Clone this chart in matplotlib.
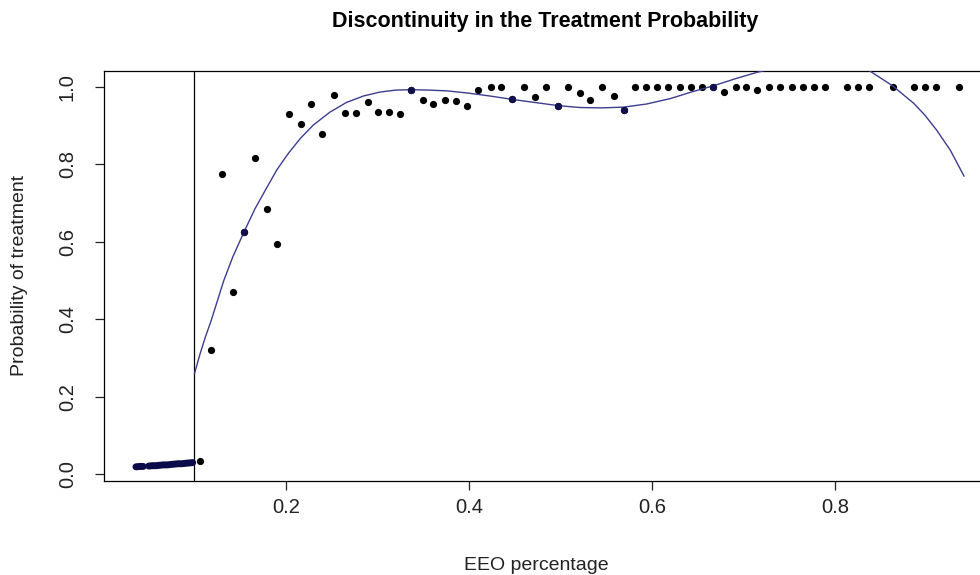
import numpy as np
import matplotlib
matplotlib.use("Agg")
import matplotlib.pyplot as plt

plt.rcParams['font.family'] = ['Liberation Sans', 'DejaVu Sans']

# binned treatment share, below the cutoff (drawn in navy)
leftX = [0.036, 0.040, 0.044, 0.050, 0.054, 0.058, 0.062, 0.066, 0.070, 0.074,
         0.078, 0.082, 0.086, 0.090, 0.094, 0.098]
leftY = [0.019, 0.020, 0.020, 0.021, 0.022, 0.022, 0.023, 0.024, 0.024, 0.025,
         0.026, 0.027, 0.027, 0.028, 0.029, 0.030]
leftGap = 3  # small break between the first bins and the rest

# binned treatment share, above the cutoff
binX = [0.106, 0.118, 0.130, 0.142, 0.154, 0.166, 0.179, 0.190, 0.203, 0.216,
        0.227, 0.239, 0.252, 0.264, 0.277, 0.290, 0.301, 0.313, 0.325, 0.337,
        0.350, 0.361, 0.374, 0.386, 0.398, 0.410, 0.424, 0.435, 0.447, 0.460,
        0.472, 0.484, 0.497, 0.508, 0.521, 0.532, 0.545, 0.558, 0.569, 0.581,
        0.594, 0.606, 0.618, 0.631, 0.643, 0.655, 0.667, 0.679, 0.692, 0.703,
        0.715, 0.728, 0.740, 0.753, 0.765, 0.777, 0.789, 0.813, 0.825, 0.837,
        0.863, 0.886, 0.898, 0.910, 0.936]
binY = [0.034, 0.321, 0.776, 0.471, 0.625, 0.817, 0.685, 0.595, 0.929, 0.905,
        0.956, 0.879, 0.979, 0.932, 0.932, 0.960, 0.936, 0.936, 0.929, 0.993,
        0.966, 0.956, 0.966, 0.964, 0.950, 0.993, 1.000, 1.000, 0.970, 1.000,
        0.973, 1.000, 0.952, 1.000, 0.984, 0.966, 1.000, 0.977, 0.940, 1.000,
        1.000, 1.000, 1.000, 1.000, 1.000, 1.000, 1.000, 0.986, 1.000, 1.000,
        0.993, 1.000, 1.000, 1.000, 1.000, 1.000, 1.000, 1.000, 1.000, 1.000,
        1.000, 1.000, 1.000, 1.000, 1.000]
# bins that sit right on the fitted curve show up navy
onCurveX = [0.154, 0.337, 0.447, 0.497, 0.569, 0.667]
onCurveY = [0.625, 0.993, 0.970, 0.952, 0.940, 1.000]

# polynomial fit above the cutoff
fitX = [0.100, 0.106, 0.112, 0.118, 0.124, 0.132, 0.142, 0.154, 0.166, 0.179,
        0.190, 0.203, 0.216, 0.230, 0.248, 0.266, 0.285, 0.303, 0.320, 0.337,
        0.356, 0.376, 0.400, 0.425, 0.447, 0.472, 0.497, 0.521, 0.545, 0.569,
        0.594, 0.620, 0.643, 0.667, 0.692, 0.715, 0.740, 0.765, 0.789, 0.813,
        0.837, 0.863, 0.886, 0.898, 0.911, 0.926, 0.941]
fitY = [0.260, 0.310, 0.355, 0.395, 0.440, 0.500, 0.562, 0.625, 0.685, 0.740,
        0.786, 0.830, 0.868, 0.902, 0.935, 0.960, 0.977, 0.987, 0.992, 0.993,
        0.992, 0.990, 0.984, 0.976, 0.968, 0.960, 0.952, 0.947, 0.946, 0.948,
        0.956, 0.970, 0.987, 1.003, 1.022, 1.038, 1.052, 1.062, 1.066, 1.060,
        1.043, 1.003, 0.958, 0.928, 0.889, 0.837, 0.770]

cutoff = 0.1
xTicks = [0.2, 0.4, 0.6, 0.8]
yTicks = [0.0, 0.2, 0.4, 0.6, 0.8, 1.0]

fig = plt.figure(figsize=(9.8, 5.75), dpi=100)
ax = fig.add_axes([104 / 980, 1 - 481 / 575, 1 - 104 / 980, (481 - 70.5) / 575])

navy = "#0b0b4a"
ax.plot(leftX[:leftGap], leftY[:leftGap], color=navy, lw=5, solid_capstyle="round", zorder=3)
ax.plot(leftX[leftGap:], leftY[leftGap:], color=navy, lw=5, solid_capstyle="round", zorder=3)
ax.plot(binX, binY, "o", color="black", ms=5.2, mec="none", zorder=2)
ax.plot(onCurveX, onCurveY, "o", color="#10104d", ms=5.2, mec="none", zorder=4)
ax.plot(fitX, fitY, color="#3d3d8f", lw=1.0, zorder=3)
ax.axvline(cutoff, color="black", lw=0.9, zorder=1)

ax.set_xlim(0.0011, 0.9585)
ax.set_ylim(-0.0176, 1.0426)
ax.set_xticks(xTicks)
ax.set_xticklabels(["0.2", "0.4", "0.6", "0.8"])
ax.set_yticks(yTicks)
ax.set_yticklabels(["0.0", "0.2", "0.4", "0.6", "0.8", "1.0"], rotation=90, va="center")
ax.tick_params(axis="both", direction="out", length=6.5, width=0.9, labelsize=14.5,
               colors="#222222")
ax.tick_params(axis="x", pad=6)
ax.tick_params(axis="y", pad=13)
ax.spines["right"].set_visible(False)
for side in ["left", "top", "bottom"]:
    ax.spines[side].set_linewidth(0.9)

fig.text(545 / 980, 1 - 22 / 575, "Discontinuity in the Treatment Probability",
         ha="center", va="center", fontsize=15.5, fontweight="bold")
fig.text(536 / 980, 1 - 565 / 575, "EEO percentage", ha="center", va="center",
         fontsize=14, color="#222222")
fig.text(20 / 980, 1 - 275 / 575, "Probability of treatment", ha="center", va="center",
         rotation=90, fontsize=14, color="#222222")

fig.savefig("out.png", dpi=100)
